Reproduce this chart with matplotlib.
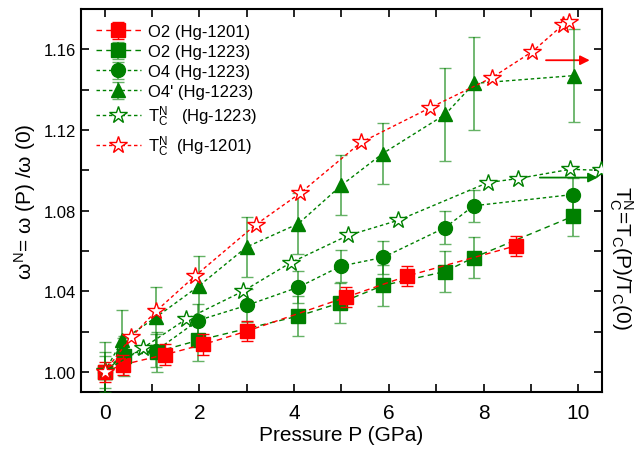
import matplotlib.pyplot as plt
import numpy as np

plt.rcParams['font.family'] = ['Liberation Sans', 'DejaVu Sans']
plt.rcParams['mathtext.fontset'] = 'custom'
plt.rcParams['mathtext.rm'] = 'Liberation Sans'
plt.rcParams['mathtext.it'] = 'Liberation Sans'

# O2 (Hg-1201)
p_o2_1201 = [0, 0.39, 1.28, 2.08, 3.0, 5.09, 6.39, 8.69]
w_o2_1201 = [1.000, 1.0036, 1.0086, 1.0136, 1.0202, 1.037, 1.0476, 1.0626]
e_o2_1201 = [0.005, 0.005, 0.005, 0.005, 0.005, 0.005, 0.005, 0.005]

# O2 (Hg-1223)
p_o2_1223 = [0, 0.4, 1.1, 1.97, 4.09, 4.98, 5.88, 7.19, 7.79, 9.89]
w_o2_1223 = [1.000, 1.008, 1.010, 1.0156, 1.0277, 1.0343, 1.0429, 1.0498, 1.0567, 1.0772]
e_o2_1223 = [0.010] * 10

# O4 (Hg-1223)
p_o4 = [0, 0.39, 1.09, 1.97, 3.0, 4.09, 4.99, 5.88, 7.19, 7.79, 9.89]
w_o4 = [1.000, 1.009, 1.0106, 1.0255, 1.033, 1.042, 1.0525, 1.0568, 1.0716, 1.0824, 1.088]
e_o4 = [0.008] * 11

# O4' (Hg-1223)
p_o4p = [0, 0.37, 1.09, 1.99, 3.0, 4.09, 5.0, 5.87, 7.19, 7.8, 9.92]
w_o4p = [1.000, 1.0156, 1.0272, 1.0426, 1.062, 1.0735, 1.0926, 1.1083, 1.1277, 1.1431, 1.147]
e_o4p = [0.015, 0.015, 0.015, 0.015, 0.015, 0.015, 0.015, 0.015, 0.023, 0.023, 0.023]

# Tc^N (Hg-1223)
p_tc_1223 = [0, 0.81, 1.71, 2.92, 3.93, 5.14, 6.2, 8.09, 8.72, 9.83, 10.47]
t_tc_1223 = [1.0003, 1.0119, 1.026, 1.040, 1.0542, 1.0677, 1.0752, 1.0939, 1.0959, 1.1005, 1.100]

# Tc^N (Hg-1201)
p_tc_1201 = [0, 0.56, 1.08, 1.9, 3.19, 4.12, 5.41, 6.87, 8.18, 9.03, 9.67, 9.8]
t_tc_1201 = [1.000, 1.0172, 1.030, 1.0474, 1.073, 1.0885, 1.1138, 1.131, 1.146, 1.1589, 1.172, 1.1734]

red = '#ff0000'
green = '#008000'
green_err = (0, 0.5, 0, 0.6)

fig = plt.figure(figsize=(6.37, 4.56), dpi=100)
ax = fig.add_axes([0.127, 0.138, 0.818, 0.840])

h1 = ax.errorbar(p_o2_1201, w_o2_1201, yerr=e_o2_1201, color=red, ecolor=red, elinewidth=1,
                 capsize=4, marker='s', ms=10, ls=(0, (4, 3)), lw=1, label='O2 (Hg-1201)', zorder=5)
h2 = ax.errorbar(p_o2_1223, w_o2_1223, yerr=e_o2_1223, color=green, ecolor=green_err, elinewidth=1.3,
                 capsize=4, marker='s', ms=10, ls=(0, (4, 3)), lw=1, label='O2 (Hg-1223)', zorder=4)
h3 = ax.errorbar(p_o4, w_o4, yerr=e_o4, color=green, ecolor=green_err, elinewidth=1.3,
                 capsize=4, marker='o', ms=10, ls=(0, (2.5, 2)), lw=1, label='O4 (Hg-1223)', zorder=4)
h4 = ax.errorbar(p_o4p, w_o4p, yerr=e_o4p, color=green, ecolor=green_err, elinewidth=1.3,
                 capsize=4, marker='^', ms=10, ls=(0, (2.5, 2)), lw=1, label="O4' (Hg-1223)", zorder=4)
h5, = ax.plot(p_tc_1223, t_tc_1223, color=green, marker='*', ms=13, mfc='white', mew=1,
              ls=(0, (2.5, 2)), lw=1, label=r'T$^N_C$   (Hg-1223)', zorder=6)
h6, = ax.plot(p_tc_1201, t_tc_1201, color=red, marker='*', ms=13, mfc='white', mew=1,
              ls=(0, (2.5, 2)), lw=1, label=r'T$^N_C$  (Hg-1201)', zorder=6)

ax.annotate('', xy=(10.30, 1.1546), xytext=(9.26, 1.1546),
            arrowprops=dict(arrowstyle='-|>', color=red, lw=1.3, mutation_scale=14))
ax.annotate('', xy=(10.47, 1.0964), xytext=(9.13, 1.0964),
            arrowprops=dict(arrowstyle='-|>', color=green, lw=1.3, mutation_scale=14))

ax.set_xlim(-0.5, 10.5)
ax.set_ylim(0.990, 1.180)
ax.set_xticks([0, 2, 4, 6, 8, 10])
ax.set_xticks(np.arange(0, 11, 1), minor=True)
ax.set_yticks([1.00, 1.04, 1.08, 1.12, 1.16])
ax.set_yticks(np.arange(1.00, 1.18, 0.02), minor=True)
ax.set_yticklabels(['1.00', '1.04', '1.08', '1.12', '1.16'])
ax.tick_params(which='both', direction='in', top=True, right=True, width=1.2)
ax.tick_params(which='major', length=6)
ax.tick_params(which='minor', length=6)
ax.tick_params(axis='x', labelsize=15, pad=8)
ax.tick_params(axis='y', labelsize=12)
for s in ax.spines.values():
    s.set_linewidth(1.5)

ax.set_xlabel('Pressure P (GPa)', fontsize=15, labelpad=2)
ax.set_ylabel(r'$\omega^N$= ω (P) /ω (0)', fontsize=15, labelpad=4)
fig.text(0.975, 0.435, r'T$^N_C$=T$_C$(P)/T$_C$(0)', rotation=270, fontsize=15,
         ha='center', va='center')

ax.legend(handles=[h1, h2, h3, h4, h5, h6], loc='upper left', frameon=False, fontsize=12,
          handlelength=2.7, labelspacing=0.3, borderaxespad=0.5, handletextpad=0.4)

fig.savefig('out.png', dpi=100)
